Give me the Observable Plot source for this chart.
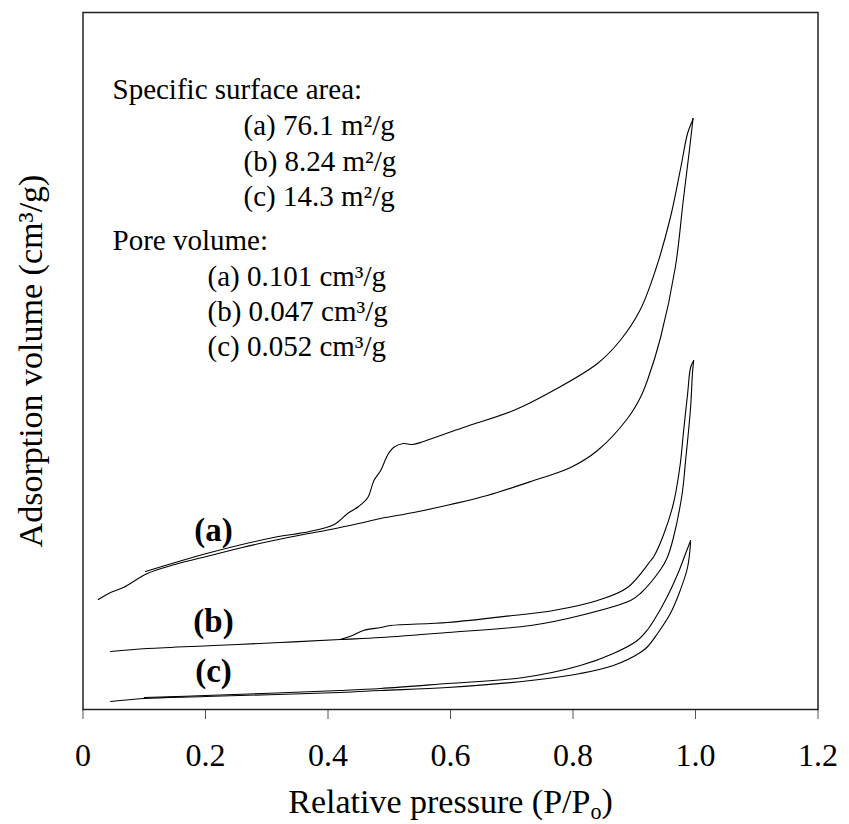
<!DOCTYPE html>
<html><head><meta charset="utf-8">
<script src="https://cdn.jsdelivr.net/npm/d3@7"></script>
<script src="https://cdn.jsdelivr.net/npm/@observablehq/plot@0.6"></script>
<style>
body{margin:0;background:#fff}
#chart svg, #chart svg text { font-family: 'Liberation Serif', 'Times New Roman', serif !important; }
</style>
</head><body><div id="chart"></div>
<script>
// ---- data ----
const xTicks = [0, 0.2, 0.4, 0.6, 0.8, 1.0, 1.2];
const xTickLabels = ["0", "0.2", "0.4", "0.6", "0.8", "1.0", "1.2"];

// sample (a)
const aAdsP = [0.025,0.045,0.066,0.105,0.15,0.208,0.26,0.311,0.36,0.404,0.45,0.486,0.54,0.60,0.66,0.736,0.796,0.84,0.889,0.91,0.922,0.943,0.967,0.98,0.99,0.996];
const aAdsV = [110,117,122,136,145,154,162,169,175,180,186,191,197,205,214,229,242,259,291,312,330,372,442,509,559,591];
const aDesP = [0.996,0.995,0.987,0.976,0.959,0.935,0.91,0.877,0.84,0.768,0.703,0.621,0.556,0.538,0.523,0.507,0.497,0.486,0.475,0.465,0.45,0.432,0.41,0.37,0.311,0.208,0.102];
const aDesV = [591,589,576,542,492,440,400,369,346,319,299,282,268,265,266,262,254,239,229,212,203,196,185,178,172,157,138];
// sample (b)
const bAdsP = [0.045,0.105,0.213,0.322,0.42,0.486,0.595,0.731,0.812,0.894,0.91,0.943,0.954,0.964,0.978,0.984,0.992,0.995,0.997];
const bAdsV = [58,61,64,67,70,72,77,84,94,109,116,140,152,172,215,250,302,336,349];
const bDesP = [0.997,0.992,0.987,0.98,0.975,0.964,0.948,0.932,0.927,0.889,0.84,0.768,0.702,0.595,0.502,0.486,0.458,0.44,0.42];
const bDesV = [349,342,315,275,245,206,175,153,149,122,109,99,94,87,84,82,79,74,70];
// sample (c)
const cAdsP = [0.045,0.099,0.2,0.42,0.486,0.595,0.731,0.812,0.866,0.91,0.922,0.938,0.959,0.975,0.987,0.992];
const cAdsV = [8,11,13,17,19,22,29,36,44,57,63,76,96,119,142,167];
const cDesP = [0.992,0.982,0.972,0.954,0.932,0.922,0.905,0.866,0.812,0.719,0.595,0.486,0.42,0.2,0.1];
const cDesV = [169,153,137,113,89,80,69,56,44,32,26,21,19,14,12];

const sampleLabels = ["(a)", "(b)", "(c)"];
const areaLines = ["(a) 76.1 m²/g", "(b) 8.24 m²/g", "(c) 14.3 m²/g"];
const poreLines = ["(a) 0.101 cm³/g", "(b) 0.047 cm³/g", "(c) 0.052 cm³/g"];
const areaTitle = "Specific surface area:";
const poreTitle = "Pore volume:";
const xTitle = "Relative pressure (P/Po)";
const yTitle = "Adsorption volume (cm³/g)";

// ---- build table ----
const series = [
  {s: "a", b: "ads", P: aAdsP, V: aAdsV}, {s: "a", b: "des", P: aDesP, V: aDesV},
  {s: "b", b: "ads", P: bAdsP, V: bAdsV}, {s: "b", b: "des", P: bDesP, V: bDesV},
  {s: "c", b: "ads", P: cAdsP, V: cAdsV}, {s: "c", b: "des", P: cDesP, V: cDesV}
];
const rows = series.flatMap(({s, b, P, V}) => P.map((p, i) => ({key: s + b, p, v: V[i]})));

// label anchors: on the adsorption branch at a fixed pressure
const labelP = 0.213;
const interp = (P, V, x) => { const i = P.findIndex((p, k) => k < P.length - 1 && p <= x && P[k + 1] >= x); return V[i] + (V[i + 1] - V[i]) * (x - P[i]) / (P[i + 1] - P[i]); };
const labels = [[aAdsP, aAdsV], [bAdsP, bAdsV], [cAdsP, cAdsV]].map(([P, V], i) => ({t: sampleLabels[i], p: labelP, v: interp(P, V, labelP)}));

const font = "'Liberation Serif','Times New Roman',serif";
const mL = 82.5, mT = 12;
const annoFs = 29;
const annoSpec = [
  [areaTitle, 112, 98], [areaLines[0], 243, 134], [areaLines[1], 243, 170], [areaLines[2], 243, 205],
  [poreTitle, 112, 249], [poreLines[0], 207, 285], [poreLines[1], 207, 320], [poreLines[2], 207, 355]
];
const annoMarks = annoSpec.map(([t, x, y]) => Plot.text([t], {frameAnchor: "top-left", text: d => d, dx: x - mL, dy: y - mT, textAnchor: "start", lineAnchor: "bottom", fontSize: annoFs, fontFamily: font, fill: "#000"}));

const axisMarks = Plot.axisX
  ? [Plot.axisX({ticks: xTicks, tickSize: 10, tickPadding: 24, tickFormat: d => xTickLabels[xTicks.indexOf(d)], stroke: "#555", fill: "#000", fontSize: 32, fontFamily: font, label: null})]
  : [];

const chart = Plot.plot({
  width: 849, height: 824,
  marginLeft: mL, marginRight: 31.5, marginTop: mT, marginBottom: 115,
  style: {fontFamily: font, fontSize: "32px", color: "#000", background: "#fff"},
  x: {domain: [0, 1.2], ticks: xTicks, tickSize: 10, tickPadding: 24, tickFormat: d => xTickLabels[xTicks.indexOf(d)], label: null},
  y: {domain: [0, 697], axis: null},
  marks: [
    ...axisMarks,
    Plot.frame({stroke: "#222", strokeWidth: 1.5}),
    Plot.line(rows, {x: "p", y: "v", z: "key", curve: "catmull-rom", stroke: "#000", strokeWidth: 1.1}),
    Plot.text(labels, {x: "p", y: "v", text: "t", dy: -14, lineAnchor: "bottom", fontWeight: "bold", fontSize: 33, fontFamily: font, fill: "#000"}),
    ...annoMarks,
    Plot.text([xTitle], {frameAnchor: "bottom", text: d => d, dy: 103, textAnchor: "middle", lineAnchor: "bottom", fontSize: 34, fontFamily: font, fill: "#000"}),
    Plot.text([yTitle], {frameAnchor: "left", text: d => d, dx: -52, rotate: -90, textAnchor: "middle", lineAnchor: "middle", fontSize: 34, fontFamily: font, fill: "#000"})
  ]
});
document.getElementById("chart").appendChild(chart);

// subscript "o" in P/Po
d3.select(chart).selectAll("text").filter(function () { return this.textContent === xTitle; }).each(function () {
  const t = d3.select(this);
  t.text(null);
  t.append("tspan").text("Relative pressure (P/P");
  t.append("tspan").attr("dy", "0.3em").attr("font-size", "0.65em").text("o");
  t.append("tspan").attr("dy", "-0.2em").text(")");
});
</script>
</body></html>
